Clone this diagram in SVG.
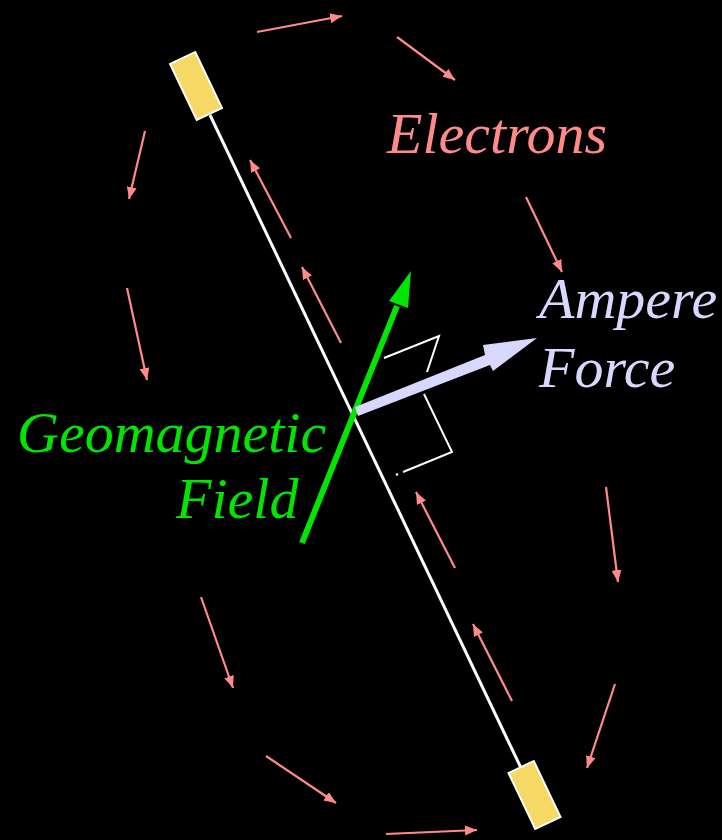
<svg xmlns="http://www.w3.org/2000/svg" width="722" height="840" viewBox="0 0 722 840">
<style>
.e{stroke:#FF8A8A;stroke-width:2.2;fill:none;marker-end:url(#ah)}
.t{font-family:"Liberation Serif","Times New Roman",serif;font-style:italic;font-size:58px}
.box{fill:#F6D865;stroke:#FFFFFF;stroke-width:2}
.wh{stroke:#FFFFFF;stroke-width:2;fill:none}
</style>
<defs>
<marker id="ah" markerUnits="userSpaceOnUse" markerWidth="14" markerHeight="12" refX="12" refY="5" orient="auto">
<path d="M0,0 L12,5 L0,10 Z" fill="#FF8A8A"/>
</marker>
</defs>
<rect width="722" height="840" fill="#000"/>
<g id="wire">
<line x1="210" y1="115" x2="521" y2="768" stroke="#FFFFFF" stroke-width="3"/>
</g>
<g id="box-top"><rect class="box" x="-14" y="-31" width="28" height="62" transform="translate(196,86) rotate(-25.5)"/></g>
<g id="box-bottom"><rect class="box" x="-14" y="-31" width="28" height="62" transform="translate(534.5,795) rotate(-25.5)"/></g>
<g id="electrons-arrows">
<line class="e" x1="257" y1="32" x2="342" y2="16"/>
<line class="e" x1="397" y1="37" x2="455" y2="80"/>
<line class="e" x1="145" y1="131" x2="129" y2="199"/>
<line class="e" x1="127" y1="288" x2="147" y2="380"/>
<line class="e" x1="291" y1="238" x2="250" y2="160"/>
<line class="e" x1="341" y1="343" x2="302" y2="267"/>
<line class="e" x1="526" y1="197" x2="562" y2="272"/>
<line class="e" x1="455" y1="568" x2="416" y2="492"/>
<line class="e" x1="512" y1="701" x2="473" y2="624"/>
<line class="e" x1="606" y1="487" x2="618" y2="582"/>
<line class="e" x1="615" y1="684" x2="587" y2="768"/>
<line class="e" x1="201" y1="597" x2="233" y2="688"/>
<line class="e" x1="266" y1="756" x2="336" y2="803"/>
<line class="e" x1="386" y1="834" x2="477" y2="830"/>
</g>
<g id="bracket">
<polyline class="wh" points="384,358 439,336 427,372"/>
<polyline class="wh" points="424,394 452,452 403,472"/>
<line class="wh" x1="396" y1="475" x2="398" y2="474"/>
</g>
<g id="geomagnetic-arrow">
<line x1="302" y1="543" x2="397" y2="306" stroke="#00E600" stroke-width="6"/>
<polygon points="411,271 408,308 389,301" fill="#00E600"/>
</g>
<g id="ampere-arrow">
<polygon points="355,407 485,355 483,345 537,338 493,371 490,365 358,416" fill="#D8D8FF"/>
</g>
<g id="labels">
<text class="t" x="387" y="153" fill="#FF8A8A">Electrons</text>
<text class="t" x="539" y="318" fill="#D8D8FF">Ampere</text>
<text class="t" x="539" y="387" fill="#D8D8FF">Force</text>
<text class="t" x="17" y="452" fill="#00E600">Geomagnetic</text>
<text class="t" x="176" y="518" fill="#00E600">Field</text>
</g>
</svg>
